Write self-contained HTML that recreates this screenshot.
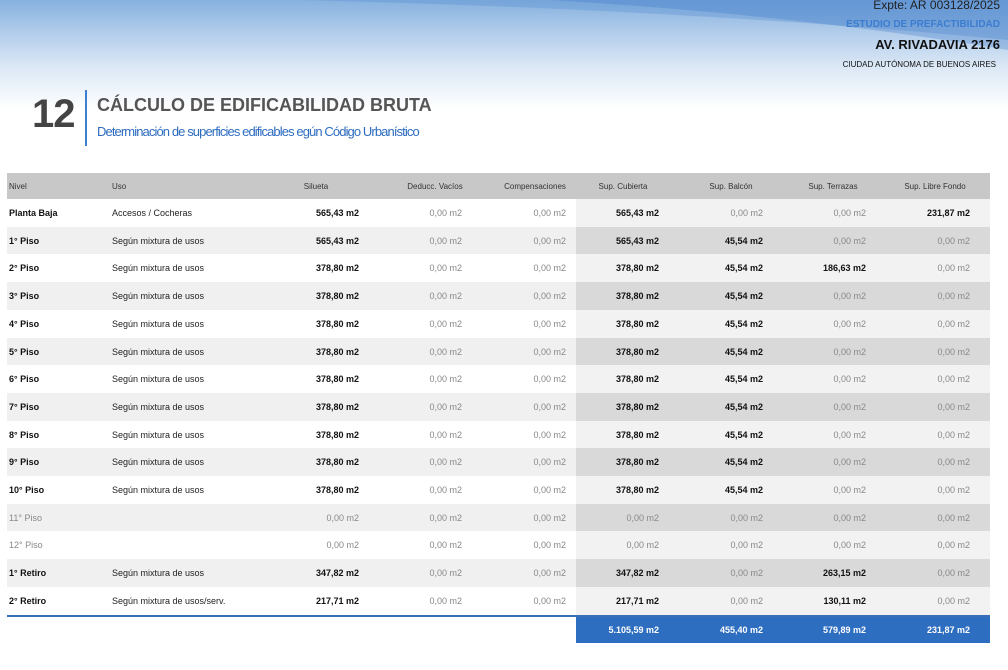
<!DOCTYPE html>
<html><head><meta charset="utf-8"><style>
body{margin:0;width:1008px;height:670px;position:relative;overflow:hidden;background:#fff;font-family:"Liberation Sans",sans-serif;}
.sky{position:absolute;left:0;top:0;width:1008px;height:110px;background:linear-gradient(180deg,#86b1df 0%,#b2cdeb 30%,#dae7f5 60%,#fff 100%);}
.t{position:absolute;white-space:nowrap;}
.row{position:absolute;left:7px;width:983px;height:28px;}
.cell{position:absolute;top:0;height:28px;line-height:28px;font-size:9px;white-space:nowrap;z-index:2;}
.b{font-weight:bold;color:#111;}
.g{color:#888;}
</style></head><body>
<div class="sky"></div>
<svg style="position:absolute;left:0;top:0" width="1008" height="60"><path d="M300 0 Q700 10 1008 40 L1008 0 Z" fill="#5a8fd2" opacity="0.35"/><path d="M550 0 Q800 15 1008 50 L1008 0Z" fill="#3a76c6" opacity="0.3"/></svg>
<div class="t" style="right:8px;top:-2px;font-size:12px;color:#222">Expte: AR 003128/2025</div>
<div class="t" style="right:8px;top:19px;font-size:10px;color:#3b7dd0;font-weight:bold">ESTUDIO DE PREFACTIBILIDAD</div>
<div class="t" style="right:8px;top:37px;font-size:13px;color:#111;font-weight:bold">AV. RIVADAVIA 2176</div>
<div class="t" style="right:12px;top:60px;font-size:8px;color:#111">CIUDAD AUTÓNOMA DE BUENOS AIRES</div>
<div class="t" style="left:32px;top:92px;font-size:40px;font-weight:bold;color:#444;letter-spacing:-1px">12</div>
<div style="position:absolute;left:85px;top:90px;width:2px;height:56px;background:#3f7fcf"></div>
<div class="t" style="left:97px;top:95px;font-size:18px;font-weight:bold;color:#555">CÁLCULO DE EDIFICABILIDAD BRUTA</div>
<div class="t" style="left:97px;top:124px;font-size:13px;color:#2d6cc0;letter-spacing:-0.9px">Determinación de superficies edificables egún Código Urbanístico</div>
<div class="row" style="top:173px;height:27px;background:#c8c8c8;border-bottom:2px solid #5a7fa8"></div>
<div style="position:absolute;left:7px;top:615px;width:983px;height:2px;background:#3a6fb5"></div>
<div style="position:absolute;left:576px;top:617px;width:414px;height:26px;background:#2e6ec0"></div>
<div id="tb"></div>
<script>
const cols=[[9,'l'],[112,'l'],[359,'r'],[462,'r'],[566,'r'],[659,'r'],[763,'r'],[866,'r'],[970,'r']];
const hc=[9,112,316,435,535,623,731,833,935];
const hd=['Nivel','Uso','Silueta','Deducc. Vacíos','Compensaciones','Sup. Cubierta','Sup. Balcón','Sup. Terrazas','Sup. Libre Fondo'];
let h='';
hd.forEach((t,i)=>{h+=`<div class="cell" style="top:173px;${i<2?'left:'+hc[i]+'px':'left:'+(hc[i]-60)+'px;width:120px;text-align:center'};font-size:8px;color:#333;height:27px;line-height:27px">${t}</div>`});
const Z='0,00 m2';
const rows=[
['Planta Baja','Accesos / Cocheras','565,43 m2',Z,Z,'565,43 m2',Z,Z,'231,87 m2'],
['1° Piso','Según mixtura de usos','565,43 m2',Z,Z,'565,43 m2','45,54 m2',Z,Z],
['2° Piso','Según mixtura de usos','378,80 m2',Z,Z,'378,80 m2','45,54 m2','186,63 m2',Z]];
for(let i=3;i<=10;i++)rows.push([i+'° Piso','Según mixtura de usos','378,80 m2',Z,Z,'378,80 m2','45,54 m2',Z,Z]);
rows.push(['11° Piso','',Z,Z,Z,Z,Z,Z,Z]);
rows.push(['12° Piso','',Z,Z,Z,Z,Z,Z,Z]);
rows.push(['1° Retiro','Según mixtura de usos','347,82 m2',Z,Z,'347,82 m2',Z,'263,15 m2',Z]);
rows.push(['2° Retiro','Según mixtura de usos/serv.','217,71 m2',Z,Z,'217,71 m2',Z,'130,11 m2',Z]);
rows.forEach((r,k)=>{
 const top=199+k*27.7;const odd=k%2==1;
 h+=`<div style="position:absolute;left:7px;top:${top}px;width:569px;height:28px;background:${odd?'#f0f0f0':'#fff'}"></div>`;
 h+=`<div style="position:absolute;left:576px;top:${top}px;width:414px;height:28px;background:${odd?'#d9d9d9':'#f2f2f2'}"></div>`;
 const grey=k==11||k==12;
 r.forEach((t,i)=>{
  let cls=(t==Z||grey)?'g':'b';
  if(i==1)cls=grey?'g':'';
  if(i==0&&!grey)cls='b';
  const pos=cols[i][1]=='l'?`left:${cols[i][0]}px`:`left:${cols[i][0]-120}px;width:120px;text-align:right`;
  h+=`<div class="cell ${cls}" style="top:${top}px;${pos};${i==1&&!grey?'color:#222':''}">${t}</div>`;
 });
});
['5.105,59 m2','455,40 m2','579,89 m2','231,87 m2'].forEach((t,i)=>{
 h+=`<div class="cell" style="top:616px;left:${[659,763,866,970][i]-120}px;width:120px;text-align:right;color:#fff;font-weight:bold">${t}</div>`});
document.getElementById('tb').innerHTML=h;
</script>
</body></html>
